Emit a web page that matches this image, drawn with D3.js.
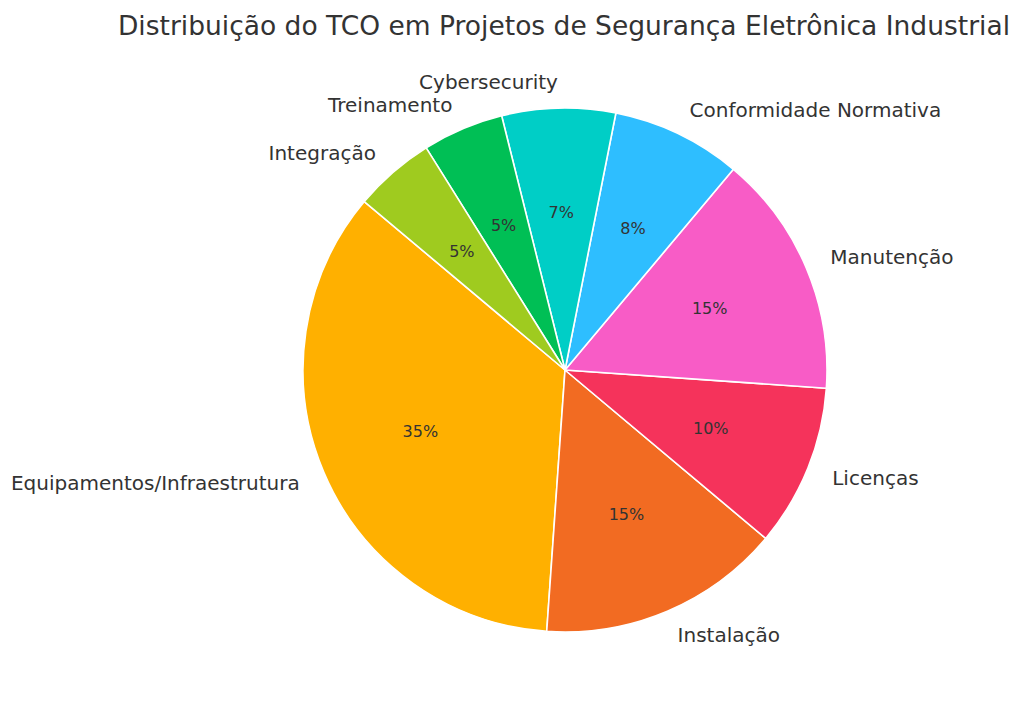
<!DOCTYPE html>
<html><head><meta charset="utf-8">
<script src="https://cdn.jsdelivr.net/npm/d3@7"></script>
<style>body{margin:0;background:#fff}svg{display:block}text{font-family:"DejaVu Sans",sans-serif;fill:#333}</style>
</head><body>
<svg id="c" width="1024" height="709"></svg>
<script>
const title = "Distribuição do TCO em Projetos de Segurança Eletrônica Industrial";
const categories = ["Equipamentos/Infraestrutura","Instalação","Licenças","Manutenção","Conformidade Normativa","Cybersecurity","Treinamento","Integração"];
const values = [35,15,10,15,8,7,5,5];
const colors = ["#FFB000","#F26B22","#F5335B","#F85CC6","#2EBEFF","#00CEC6","#00BF55","#9FCB1F"];

const W=1024,H=709,cx=565,cy=370,R=262,startDeg=140;
const svg=d3.select("#c");
svg.append("text").attr("x",564).attr("y",25).attr("text-anchor","middle").attr("dominant-baseline","central")
  .style("font-size","26.5px").text(title);

const total=d3.sum(values);
// matplotlib-style: counterclockwise from startDeg (math angles)
const angScale=d3.scaleLinear().domain([0,total]).range([startDeg,startDeg+360]);
let cum=0;
const slices=values.map((v,i)=>{const a0=angScale(cum);cum+=v;const a1=angScale(cum);return {i,v,a0,a1};});
// convert math angle (deg, ccw from +x) to d3 arc angle (rad, cw from 12 o'clock)
const toD3=a=>(90-a)*Math.PI/180;
const arc=d3.arc().innerRadius(0).outerRadius(R);
const g=svg.append("g").attr("transform",`translate(${cx},${cy})`);
g.selectAll("path").data(slices).join("path")
  .attr("d",d=>arc({startAngle:toD3(d.a1),endAngle:toD3(d.a0)}))
  .attr("fill",d=>colors[d.i]).attr("stroke","#fff").attr("stroke-width",1.6).attr("stroke-linejoin","round");

slices.forEach(d=>{
  const m=(d.a0+d.a1)/2*Math.PI/180;
  const lx=1.1*R*Math.cos(m), ly=-1.1*R*Math.sin(m);
  g.append("text").attr("x",lx).attr("y",ly).attr("text-anchor",lx>0?"start":"end")
    .attr("dominant-baseline","central").style("font-size","20px").text(categories[d.i]);
  const px=0.6*R*Math.cos(m), py=-0.6*R*Math.sin(m);
  g.append("text").attr("x",px).attr("y",py).attr("text-anchor","middle")
    .attr("dominant-baseline","central").style("font-size","16px").text(d3.format(".0f")(d.v/total*100)+"%");
});
</script>
</body></html>
